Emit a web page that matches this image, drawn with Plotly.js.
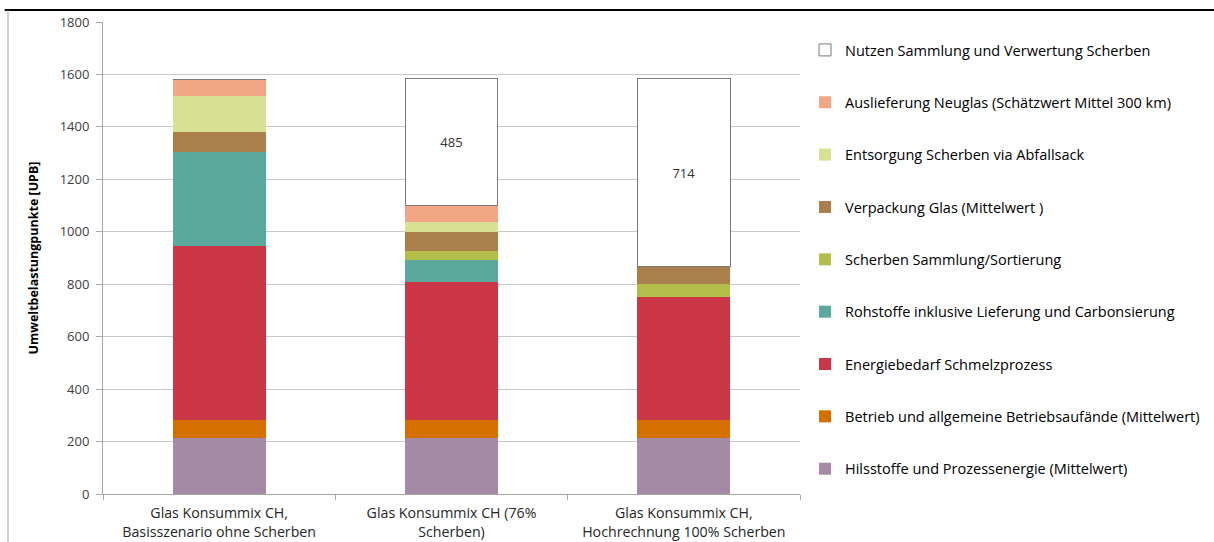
<!DOCTYPE html>
<html>
<head>
<meta charset="utf-8">
<script src="https://cdn.plot.ly/plotly-3.0.1.min.js"></script>
<style>html,body{margin:0;padding:0;background:#fff;}#chart{width:1214px;height:542px;}</style>
</head>
<body>
<div id="chart"></div>
<script>
// Categories (x axis)
const categories = [
  "Glas Konsummix CH,<br>Basisszenario ohne Scherben",
  "Glas Konsummix CH (76%<br>Scherben)",
  "Glas Konsummix CH,<br>Hochrechnung 100% Scherben"
];

// Series (bottom to top of stack)
const seriesNames = [
  "Hilsstoffe und Prozessenergie (Mittelwert)",
  "Betrieb und allgemeine Betriebsaufände (Mittelwert)",
  "Energiebedarf Schmelzprozess",
  "Rohstoffe inklusive Lieferung und Carbonsierung",
  "Scherben Sammlung/Sortierung",
  "Verpackung Glas (Mittelwert )",
  "Entsorgung Scherben via Abfallsack",
  "Auslieferung Neuglas (Schätzwert Mittel 300 km)",
  "Nutzen Sammlung und Verwertung Scherben"
];

const hilsstoffe   = [215, 215, 215];
const betrieb      = [68, 68, 68];
const energie      = [664, 525, 469];
const rohstoffe    = [357, 86, 0];
const sammlung     = [0, 34, 47];
const verpackung   = [75, 72, 70];
const entsorgung   = [140, 37, 0];
const auslieferung = [63, 62, 0];
const nutzen       = [0, 485, 714];

const seriesValues = [hilsstoffe, betrieb, energie, rohstoffe, sammlung, verpackung, entsorgung, auslieferung, nutzen];

const seriesColors = ["#A48AA5", "#D46F00", "#CC3748", "#5AA99D", "#B3BD49", "#A9804B", "#D8E193", "#F3A686", "#FFFFFF"];

const traces = seriesNames.map((name, i) => {
  const isNutzen = i === seriesNames.length - 1;
  const t = {
    type: "bar",
    name: name,
    x: categories,
    y: seriesValues[i],
    width: 0.4,
    legendgroup: "g" + i,
    legendrank: seriesNames.length - i,
    marker: {
      color: seriesColors[i],
      line: isNutzen ? {color: "#7a7a7a", width: 1} : {width: 0}
    },
    hoverinfo: "name+y"
  };
  if (isNutzen) {
    t.text = seriesValues[i].map(v => v ? String(v) : "");
    t.textposition = "inside";
    t.insidetextanchor = "middle";
    t.textfont = {family: "Open Sans, sans-serif", size: 13, color: "#333333"};
  }
  return t;
});

const layout = {
  width: 1214,
  height: 542,
  margin: {l: 103, r: 414, t: 22, b: 48, pad: 0, autoexpand: false},
  paper_bgcolor: "#ffffff",
  plot_bgcolor: "#ffffff",
  barmode: "stack",
  font: {family: "Open Sans, sans-serif", color: "#404040", size: 13},
  xaxis: {
    type: "category",
    tickson: "boundaries",
    ticks: "outside",
    ticklen: 5,
    tickcolor: "#a6a6a6",
    showline: true,
    linecolor: "#a6a6a6",
    linewidth: 1,
    showgrid: false,
    ticklabelstandoff: 6,
    tickfont: {family: "Open Sans, sans-serif", size: 14.2, color: "#262626"},
    automargin: false
  },
  yaxis: {
    range: [0, 1800],
    dtick: 200,
    ticks: "outside",
    ticklen: 6,
    tickcolor: "#a6a6a6",
    showline: true,
    linecolor: "#a6a6a6",
    linewidth: 1,
    gridcolor: "#c8c8c8",
    gridwidth: 1,
    zeroline: false,
    ticklabelstandoff: 4,
    tickfont: {family: "Open Sans, sans-serif", size: 13, color: "#404040"},
    title: {text: "Umweltbelastungpunkte [UPB]", font: {family: "Open Sans, sans-serif", size: 12.5, color: "#000000", weight: "bold"}, standoff: 18},
    automargin: false
  },
  showlegend: true,
  legend: {
    x: 1.0072,
    xanchor: "left",
    y: 0.9746,
    yanchor: "top",
    traceorder: "grouped",
    tracegroupgap: 30.5,
    font: {family: "Open Sans, sans-serif", size: 14.5, color: "#000000"},
    bgcolor: "rgba(0,0,0,0)",
    itemwidth: 30
  },
  shapes: [
    {type: "line", xref: "paper", yref: "paper", x0: -0.141, x1: 1.6, y0: 1.0254, y1: 1.0254, line: {color: "#000000", width: 2}},
    {type: "line", xref: "paper", yref: "paper", x0: -0.1363, x1: -0.1363, y0: 1.0254, y1: -0.11, line: {color: "#a0a0a0", width: 1}}
  ]
};

Plotly.newPlot("chart", traces, layout, {displayModeBar: false, staticPlot: true});
</script>
</body>
</html>
